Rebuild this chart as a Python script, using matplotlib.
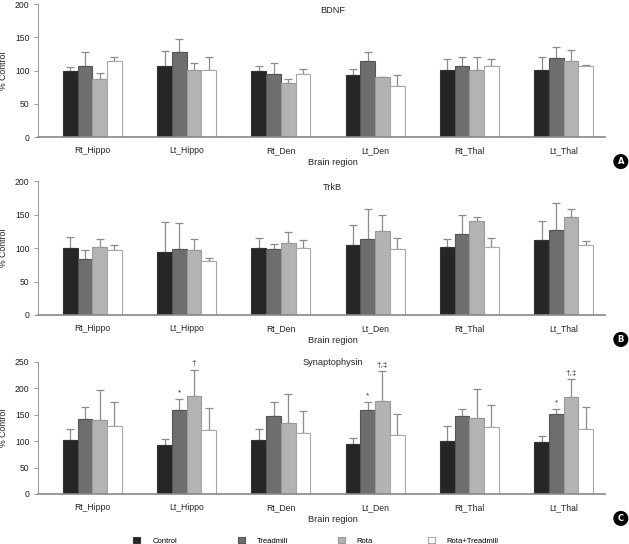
import numpy as np
import matplotlib
matplotlib.use('Agg')
import matplotlib.pyplot as plt
from matplotlib.patches import Patch
from matplotlib import font_manager

names = {f.name for f in font_manager.fontManager.ttflist}
if 'Liberation Sans Narrow' in names:
    plt.rcParams['font.family'] = ['Liberation Sans Narrow', 'DejaVu Sans']
    k = 1.2
else:
    plt.rcParams['font.family'] = ['Liberation Sans', 'DejaVu Sans']
    k = 1.0

regions = ['Rt_Hippo', 'Lt_Hippo', 'Rt_Den', 'Lt_Den', 'Rt_Thal', 'Lt_Thal']
groups = ['Control', 'Treadmill', 'Rota', 'Rota+Treadmill']

# BDNF: mean and top of error bar
bdnf_mean = {
    'Control': [100, 107.5, 99.5, 94, 101.5, 101.5],
    'Treadmill': [107.5, 127.6, 94.5, 114.6, 107.5, 118.6],
    'Rota': [88, 101, 82, 91, 101.5, 115],
    'Rota+Treadmill': [114.6, 101, 95, 77.4, 107.5, 107.5],
}
bdnf_top = {
    'Control': [106, 130, 107, 103, 118, 121],
    'Treadmill': [128.6, 147.7, 112, 128.6, 121, 135.7],
    'Rota': [97, 112, 87.4, 91, 121, 131.7],
    'Rota+Treadmill': [121, 121, 102.5, 94, 118, 109],
}

# TrkB
trkb_mean = {
    'Control': [100.5, 94.5, 100.5, 104, 101, 112.4],
    'Treadmill': [83.6, 98, 98.5, 113, 120.4, 127],
    'Rota': [101, 96.5, 107, 125, 140, 146],
    'Rota+Treadmill': [96.5, 81, 100.5, 98, 101, 105],
}
trkb_top = {
    'Control': [116.4, 139, 115.4, 135, 113, 140],
    'Treadmill': [96.5, 138, 106.5, 159, 150, 166.7],
    'Rota': [114, 113, 123.4, 150, 146, 158],
    'Rota+Treadmill': [104, 84.6, 112.4, 114.4, 114.4, 110],
}

# Synaptophysin
syn_mean = {
    'Control': [101.8, 92.3, 101.8, 95.5, 101, 98],
    'Treadmill': [142.6, 158.3, 148.2, 159, 148, 151.4],
    'Rota': [139.4, 184.7, 133.8, 177, 143, 182.8],
    'Rota+Treadmill': [128.8, 120.6, 115.6, 111, 126, 123],
}
syn_top = {
    'Control': [122.5, 103.6, 122.5, 105.5, 128, 109],
    'Treadmill': [164, 179, 175, 174, 160, 160],
    'Rota': [197, 235.5, 190, 232, 198, 217.3],
    'Rota+Treadmill': [173.4, 162.7, 156.4, 150.8, 168, 164],
}
# significance marks: (region index, group, text)
syn_marks = [(1, 'Treadmill', '*'), (1, 'Rota', '\u2020'),
             (3, 'Treadmill', '*'), (3, 'Rota', '\u2020,\u2021'),
             (5, 'Treadmill', '*'), (5, 'Rota', '\u2020,\u2021')]

colors = {'Control': '#262626', 'Treadmill': '#6e6e6e', 'Rota': '#b3b3b3', 'Rota+Treadmill': '#ffffff'}
edges = {'Control': '#333333', 'Treadmill': '#555555', 'Rota': '#999999', 'Rota+Treadmill': '#a8a8a8'}

fig = plt.figure(figsize=(6.29, 5.44), dpi=100)

panels = [
    ('BDNF', bdnf_mean, bdnf_top, 200, [0, 50, 100, 150, 200], [0.06, 0.748, 0.902, 0.2445], 0.955, 'A', None),
    ('TrkB', trkb_mean, trkb_top, 200, [0, 50, 100, 150, 200], [0.06, 0.421, 0.902, 0.246], 0.95, 'B', None),
    ('Synaptophysin', syn_mean, syn_top, 250, [0, 50, 100, 150, 200, 250], [0.06, 0.092, 0.902, 0.2426], 0.995, 'C', syn_marks),
]

x = np.arange(len(regions))
w = 0.156
txt_c = '#222222'

for title, mean, top, ymax, yt, pos, ty, letter, marks in panels:
    ax = fig.add_axes(pos)
    for i, g in enumerate(groups):
        xs = x + (i - 1.5) * w
        m = np.array(mean[g])
        err = np.array(top[g]) - m
        ax.bar(xs, m, w, color=colors[g], edgecolor=edges[g], linewidth=0.8, zorder=2)
        ax.errorbar(xs, m, yerr=[np.zeros_like(err), err], fmt='none', ecolor='#8c8c8c',
                    elinewidth=0.9, capsize=2.8, capthick=0.9, zorder=1)
    if marks:
        for ri, g, txt in marks:
            gi = groups.index(g)
            ax.text(ri + (gi - 1.5) * w, top[g][ri] + 5, txt, ha='center', va='bottom',
                    fontsize=6 * k, color='#333333')
    ax.set_xlim(-0.58, 5.44)
    ax.set_ylim(0, ymax)
    ax.set_yticks(yt)
    ax.set_xticks(x)
    ax.set_xticklabels(regions)
    ax.tick_params(axis='x', length=0, labelsize=6.2 * k, pad=6.5, colors=txt_c)
    ax.tick_params(axis='y', length=3, width=0.6, labelsize=6.2 * k, colors=txt_c, pad=3)
    ax.tick_params(axis='y', color='#888888')
    for s in ['top', 'right']:
        ax.spines[s].set_visible(False)
    ax.spines['left'].set_color('#888888')
    ax.spines['left'].set_linewidth(0.6)
    ax.spines['bottom'].set_color('#888888')
    ax.spines['bottom'].set_linewidth(1.2)
    ax.set_ylabel('% Control', fontsize=6.3 * k, color=txt_c)
    ax.yaxis.set_label_coords(-0.052, 0.5)
    ax.set_xlabel('Brain region', fontsize=6.6 * k, color=txt_c)
    ax.xaxis.set_label_coords(0.52, -0.16)
    ax.text(0.52, ty, title, transform=ax.transAxes, ha='center', va='center', fontsize=6.6 * k,
            color=txt_c)
    # panel letter in a black circle
    bx = pos[0] + pos[2] + 0.025
    by = pos[1] - 0.045
    fig.text(bx, by, letter, ha='center', va='center', fontsize=6, fontweight='bold',
             color='white', family='DejaVu Sans',
             bbox=dict(boxstyle='circle,pad=0.28', fc='black', ec='black'))

# legend: one entry per slot, spaced like the reference
legend_x = [0.212, 0.378, 0.537, 0.680]
for g, lx in zip(groups, legend_x):
    h = Patch(facecolor=colors[g], edgecolor=edges[g], linewidth=0.8)
    fig.legend([h], [g], loc='center left', bbox_to_anchor=(lx, 0.006), frameon=False,
               fontsize=5.5 * k, handlelength=0.9, handleheight=0.9, handletextpad=1.6,
               borderaxespad=0, borderpad=0)

fig.savefig('out.png', dpi=100)
